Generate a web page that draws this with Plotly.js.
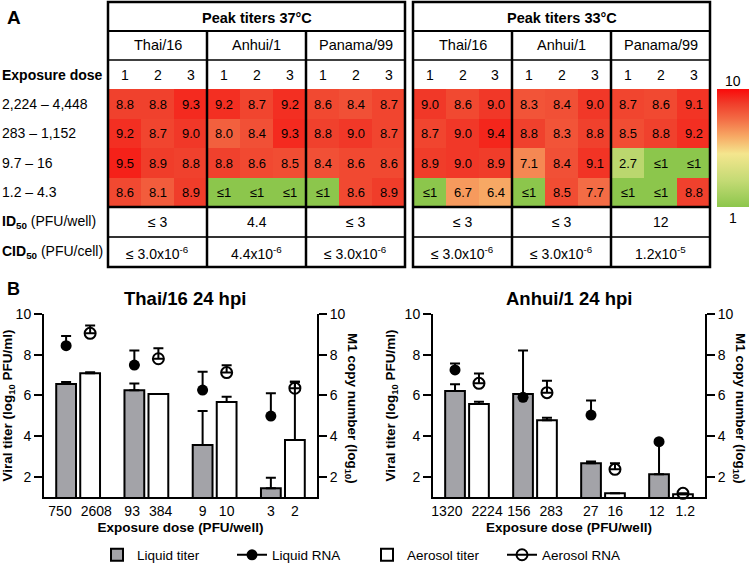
<!DOCTYPE html>
<html><head><meta charset="utf-8">
<script src="https://cdn.plot.ly/plotly-3.0.1.min.js"></script>
<style>html,body{margin:0;padding:0;background:#fff}#chart{width:750px;height:564px}</style>
</head><body><div id="chart"></div>
<script>
// ---------------- Panel A data ----------------
const strains = ['Thai/16', 'Anhui/1', 'Panama/99'];
const replicates = ['1', '2', '3'];
const doseRanges = ['2,224 – 4,448', '283 – 1,152', '9.7 – 16', '1.2 – 4.3'];
const peak37 = [
  [8.8, 8.8, 9.3, 9.2, 8.7, 9.2, 8.6, 8.4, 8.7],
  [9.2, 8.7, 9.0, 8.0, 8.4, 9.3, 8.8, 9.0, 8.7],
  [9.5, 8.9, 8.8, 8.8, 8.6, 8.5, 8.4, 8.6, 8.6],
  [8.6, 8.1, 8.9, 1, 1, 1, 1, 8.6, 8.9]
];
const peak33 = [
  [9.0, 8.6, 9.0, 8.3, 8.4, 9.0, 8.7, 8.6, 9.1],
  [8.7, 9.0, 9.4, 8.8, 8.3, 8.8, 8.5, 8.8, 9.2],
  [8.9, 9.0, 8.9, 7.1, 8.4, 9.1, 2.7, 1, 1],
  [1, 6.7, 6.4, 1, 8.5, 7.7, 1, 1, 8.8]
];
const detectionLimit = 1;
const id50_37 = ['≤ 3', '4.4', '≤ 3'];
const id50_33 = ['≤ 3', '≤ 3', '12'];
const cid50_37 = ['≤ 3.0x10<sup>-6</sup>', '4.4x10<sup>-6</sup>', '≤ 3.0x10<sup>-6</sup>'];
const cid50_33 = ['≤ 3.0x10<sup>-6</sup>', '≤ 3.0x10<sup>-6</sup>', '1.2x10<sup>-5</sup>'];
const scaleMin = 1, scaleMax = 10;

// ---------------- Panel B data ----------------
const thaiLiquidDose = ['750', '93', '9', '3'];
const thaiAerosolDose = ['2608', '384', '10', '2'];
const thaiLiquidTiter = [6.56, 6.25, 3.56, 1.43];
const thaiLiquidTiterErr = [0.10, 0.33, 1.67, 0.52];
const thaiAerosolTiter = [7.08, 6.07, 5.67, 3.80];
const thaiAerosolTiterErr = [0.05, 0, 0.26, 2.87];
const thaiLiquidRNA = [8.44, 7.49, 6.26, 4.98];
const thaiLiquidRNAErr = [0.48, 0.72, 0.90, 1.12];
const thaiAerosolRNA = [9.05, 7.80, 7.12, 6.35];
const thaiAerosolRNAErr = [0.38, 0.51, 0.36, 0.32];

const anhuiLiquidDose = ['1320', '156', '27', '12'];
const anhuiAerosolDose = ['2224', '283', '16', '1.2'];
const anhuiLiquidTiter = [6.21, 6.07, 2.66, 2.12];
const anhuiLiquidTiterErr = [0.33, 2.14, 0.08, 1.60];
const anhuiAerosolTiter = [5.57, 4.77, 1.18, 1.13];
const anhuiAerosolTiterErr = [0.12, 0.13, 0, 0];
const anhuiLiquidRNA = [7.25, 5.90, 5.03, 3.72];
const anhuiLiquidRNAErr = [0.31, 0, 0.71, 0];
const anhuiAerosolRNA = [6.59, 6.13, 2.36, 1.18];
const anhuiAerosolRNAErr = [0.48, 0.59, 0.30, 0];

// ---------------- helpers / layout geometry ----------------
const W = 750, H = 564;
const px = x => x / W, py = y => 1 - y / H;
const FONT = 'Arial, "Liberation Sans", sans-serif';
const colorscale = [
  [0, '#8cc64c'], [0.22, '#c3da74'], [0.45, '#f4e68e'], [0.6, '#f7a864'],
  [0.75, '#f36a44'], [0.88, '#f03c2a'], [1, '#fa0a0a']
];

const traces = [];
const shapes = [];
const annotations = [];
function ann(text, x, y, o) {
  annotations.push(Object.assign({text, x: px(x), y: py(y), xref: 'paper', yref: 'paper',
    showarrow: false, xanchor: 'center', yanchor: 'middle', font: {size: 14, color: '#000', family: FONT}}, o || {}));
}
function line(x0, y0, x1, y1, w, c) {
  shapes.push({type: 'line', xref: 'paper', yref: 'paper', x0: px(x0), y0: py(y0), x1: px(x1), y1: py(y1),
    line: {color: c || '#000', width: w}});
}

// Panel A geometry
const R = {top: 2, hdr: 31, strain: 60, heat0: 89, heat1: 207, id: 237, bottom: 267};
const tables = [
  {x0: 108, x1: 405, title: 'Peak titers 37°C', z: peak37, id50: id50_37, cid50: cid50_37, xa: 'x', ya: 'y', key: 'xaxis', ykey: 'yaxis', scale: false},
  {x0: 413, x1: 710, title: 'Peak titers 33°C', z: peak33, id50: id50_33, cid50: cid50_33, xa: 'x2', ya: 'y2', key: 'xaxis2', ykey: 'yaxis2', scale: true}
];
const layout = {
  width: W, height: H, margin: {l: 0, r: 0, t: 0, b: 0, autoexpand: false},
  paper_bgcolor: '#fff', plot_bgcolor: 'rgba(0,0,0,0)',
  font: {family: FONT, color: '#000', size: 14},
  barmode: 'overlay', showlegend: true
};

tables.forEach(t => {
  const colW = (t.x1 - t.x0) / 3;
  const subW = colW / 3;
  traces.push({
    type: 'heatmap', z: t.z, xaxis: t.xa, yaxis: t.ya,
    x: t.z[0].map((_, i) => i), y: doseRanges.map((_, i) => i),
    text: t.z.map(r => r.map(v => v <= detectionLimit ? '≤1' : v.toFixed(1))),
    texttemplate: '%{text}', textfont: {size: 13, color: '#000', family: FONT},
    zmin: scaleMin, zmax: scaleMax, colorscale: colorscale, hoverinfo: 'skip',
    showscale: t.scale,
    colorbar: {xref: 'container', yref: 'container', x: px(717), xanchor: 'left',
      y: py((R.heat0 + R.heat1) / 2), yanchor: 'middle',
      len: R.heat1 - R.heat0, lenmode: 'pixels', thickness: 32, thicknessmode: 'pixels',
      outlinewidth: 0, showticklabels: false, ticks: '', xpad: 0, ypad: 0}
  });
  layout[t.key] = {domain: [px(t.x0), px(t.x1)], anchor: t.ya, range: [-0.5, 8.5], visible: false, fixedrange: true};
  layout[t.ykey] = {domain: [py(R.heat1), py(R.heat0)], anchor: t.xa, range: [3.5, -0.5], visible: false, fixedrange: true};
  // table lines
  line(t.x0, R.hdr, t.x1, R.hdr, 2);
  line(t.x0, R.strain, t.x1, R.strain, 1.5);
  line(t.x0, R.heat1, t.x1, R.heat1, 2.5);
  line(t.x0, R.id, t.x1, R.id, 2, '#333');
  for (let k = 1; k < 3; k++) line(t.x0 + k * colW, R.hdr, t.x0 + k * colW, R.bottom, 2.5);
  shapes.push({type: 'rect', xref: 'paper', yref: 'paper', x0: px(t.x0), x1: px(t.x1), y0: py(R.bottom), y1: py(R.top),
    line: {color: '#000', width: 2.5}});
  // texts
  ann('<b>' + t.title + '</b>', (t.x0 + t.x1) / 2, (R.top + R.hdr) / 2 + 1, {font: {size: 14.5, family: FONT, color: '#000'}});
  strains.forEach((s, k) => {
    const cx = t.x0 + (k + 0.5) * colW;
    ann(s, cx, (R.hdr + R.strain) / 2, {font: {size: 14.5, family: FONT, color: '#000'}});
    replicates.forEach((r, j) => ann(r, t.x0 + k * colW + (j + 0.5) * subW, (R.strain + R.heat0) / 2));
    ann(t.id50[k], cx, (R.heat1 + R.id) / 2);
    ann(t.cid50[k], cx, (R.id + R.bottom) / 2 + 1);
  });
});
// row labels
ann('<b>Exposure dose</b>', 0, (R.strain + R.heat0) / 2, {xanchor: 'left'});
doseRanges.forEach((d, i) => ann(d, 0, R.heat0 + (i + 0.5) * (R.heat1 - R.heat0) / doseRanges.length, {xanchor: 'left'}));
ann('<b>ID<sub>50</sub></b> (PFU/well)', 0, (R.heat1 + R.id) / 2, {xanchor: 'left'});
ann('<b>CID<sub>50</sub></b> (PFU/cell)', 0, (R.id + R.bottom) / 2, {xanchor: 'left'});
ann(String(scaleMax), 733, 81);
ann(String(scaleMin), 733, 218);
ann('<b>A</b>', 14, 18, {font: {size: 19, family: FONT, color: '#000'}});
ann('<b>B</b>', 13, 289, {font: {size: 18, family: FONT, color: '#000'}});

// Panel B
const P = {top: 314, bottom: 497};
const OFF = 0.176, BAR_W = 0.29;
const groups = [1, 2, 3, 4];
const plots = [
  {title: 'Thai/16 24 hpi', x0: 44, x1: 317, tx: 185, rt: 352, xa: 'x3', ya: 'y3', ya2: 'y4', k: 3,
   ld: thaiLiquidDose, ad: thaiAerosolDose, lt: thaiLiquidTiter, lte: thaiLiquidTiterErr,
   at: thaiAerosolTiter, ate: thaiAerosolTiterErr, lr: thaiLiquidRNA, lre: thaiLiquidRNAErr,
   ar: thaiAerosolRNA, are: thaiAerosolRNAErr, legend: true},
  {title: 'Anhui/1 24 hpi', x0: 433, x1: 705, tx: 569, rt: 740, xa: 'x5', ya: 'y5', ya2: 'y6', k: 5,
   ld: anhuiLiquidDose, ad: anhuiAerosolDose, lt: anhuiLiquidTiter, lte: anhuiLiquidTiterErr,
   at: anhuiAerosolTiter, ate: anhuiAerosolTiterErr, lr: anhuiLiquidRNA, lre: anhuiLiquidRNAErr,
   ar: anhuiAerosolRNA, are: anhuiAerosolRNAErr, legend: false}
];
const gapped = a => { const o = []; a.forEach((v, i) => { if (i) o.push(null); o.push(v); }); return o; };
const yTicks = [2, 4, 6, 8, 10];
const yRange = [1, 10];
// spread paired dose labels apart (in px) so they do not collide
const CHAR_W = 7.8, LABEL_GAP = 9;
function pairShiftPx(l, r, pairDistPx) {
  const need = (l.length + r.length) * CHAR_W / 2 + LABEL_GAP - pairDistPx;
  return need > 0 ? need / 2 : 0;
}

plots.forEach(p => {
  const xl = groups.map(g => g - OFF), xr = groups.map(g => g + OFF);
  const unitPx = (p.x1 - p.x0) / 4;
  const errBar = arr => ({type: 'data', symmetric: false, array: arr, arrayminus: arr.map(() => 0),
    color: '#000', thickness: 2, width: 5});
  traces.push({type: 'bar', name: 'Liquid titer', x: xl, y: p.lt, width: BAR_W, xaxis: p.xa, yaxis: p.ya,
    marker: {color: '#a3a3a8', line: {color: '#000', width: 2}}, error_y: errBar(p.lte),
    showlegend: p.legend, hoverinfo: 'skip'});
  traces.push({type: 'scatter', mode: 'lines+markers', name: 'Liquid RNA', x: gapped(xl), y: gapped(p.lr),
    connectgaps: false, xaxis: p.xa, yaxis: p.ya2, line: {color: '#000', width: 2},
    marker: {symbol: 'circle', size: 11, color: '#000'}, error_y: errBar(gapped(p.lre)),
    showlegend: p.legend, hoverinfo: 'skip', cliponaxis: false});
  traces.push({type: 'bar', name: 'Aerosol titer', x: xr, y: p.at, width: BAR_W, xaxis: p.xa, yaxis: p.ya,
    marker: {color: '#fff', line: {color: '#000', width: 2}}, error_y: errBar(p.ate),
    showlegend: p.legend, hoverinfo: 'skip'});
  traces.push({type: 'scatter', mode: 'lines+markers', name: 'Aerosol RNA', x: gapped(xr), y: gapped(p.ar),
    connectgaps: false, xaxis: p.xa, yaxis: p.ya2, line: {color: '#000', width: 2},
    marker: {symbol: 'circle-open', size: 11, color: '#000', line: {width: 2, color: '#000'}},
    error_y: errBar(gapped(p.are)),
    showlegend: p.legend, hoverinfo: 'skip', cliponaxis: false});

  const tv = [], tt = [];
  groups.forEach((g, i) => {
    const s = pairShiftPx(p.ld[i], p.ad[i], 2 * OFF * unitPx) / unitPx;
    tv.push(xl[i] - s, xr[i] + s); tt.push(p.ld[i], p.ad[i]);
  });
  layout['xaxis' + p.k] = {domain: [px(p.x0), px(p.x1)], anchor: p.ya, range: [0.5, 4.5],
    showline: true, linewidth: 2, linecolor: '#000', ticks: '', showgrid: false, zeroline: false,
    tickmode: 'array', tickvals: tv, ticktext: tt, tickangle: 0, tickfont: {size: 14}, fixedrange: true,
    title: {text: '<b>Exposure dose (PFU/well)</b>', font: {size: 13.5}, standoff: 5}};
  const yax = {domain: [py(P.bottom), py(P.top)], range: yRange, tickvals: yTicks, ticks: 'outside',
    ticklen: 8, tickwidth: 2, tickcolor: '#000', showline: true, linewidth: 2, linecolor: '#000',
    showgrid: false, zeroline: false, tickfont: {size: 14}, fixedrange: true};
  layout['yaxis' + p.k] = Object.assign({}, yax, {anchor: p.xa,
    title: {text: '<b>Viral titer (log<sub>10</sub> PFU/ml)</b>', font: {size: 13.5}, standoff: 6}});
  layout['yaxis' + (p.k + 1)] = Object.assign({}, yax, {overlaying: p.ya, side: 'right', anchor: p.xa});
  ann('<b>' + p.title + '</b>', p.tx, 298, {font: {size: 18.5, family: FONT, color: '#000'}});
  ann('<b>M1 copy number (log<sub>10</sub>)</b>', p.rt, 408, {textangle: 90, font: {size: 13.5, family: FONT, color: '#000'}});
});

layout.legend = {orientation: 'h', x: px(97), xanchor: 'left', y: py(555), yanchor: 'middle',
  entrywidth: 90, entrywidthmode: 'pixels', font: {size: 13.5}, bgcolor: 'rgba(0,0,0,0)', traceorder: 'normal'};
layout.shapes = shapes;
layout.annotations = annotations;

Plotly.newPlot('chart', traces, layout, {displayModeBar: false, staticPlot: true});
</script></body></html>
